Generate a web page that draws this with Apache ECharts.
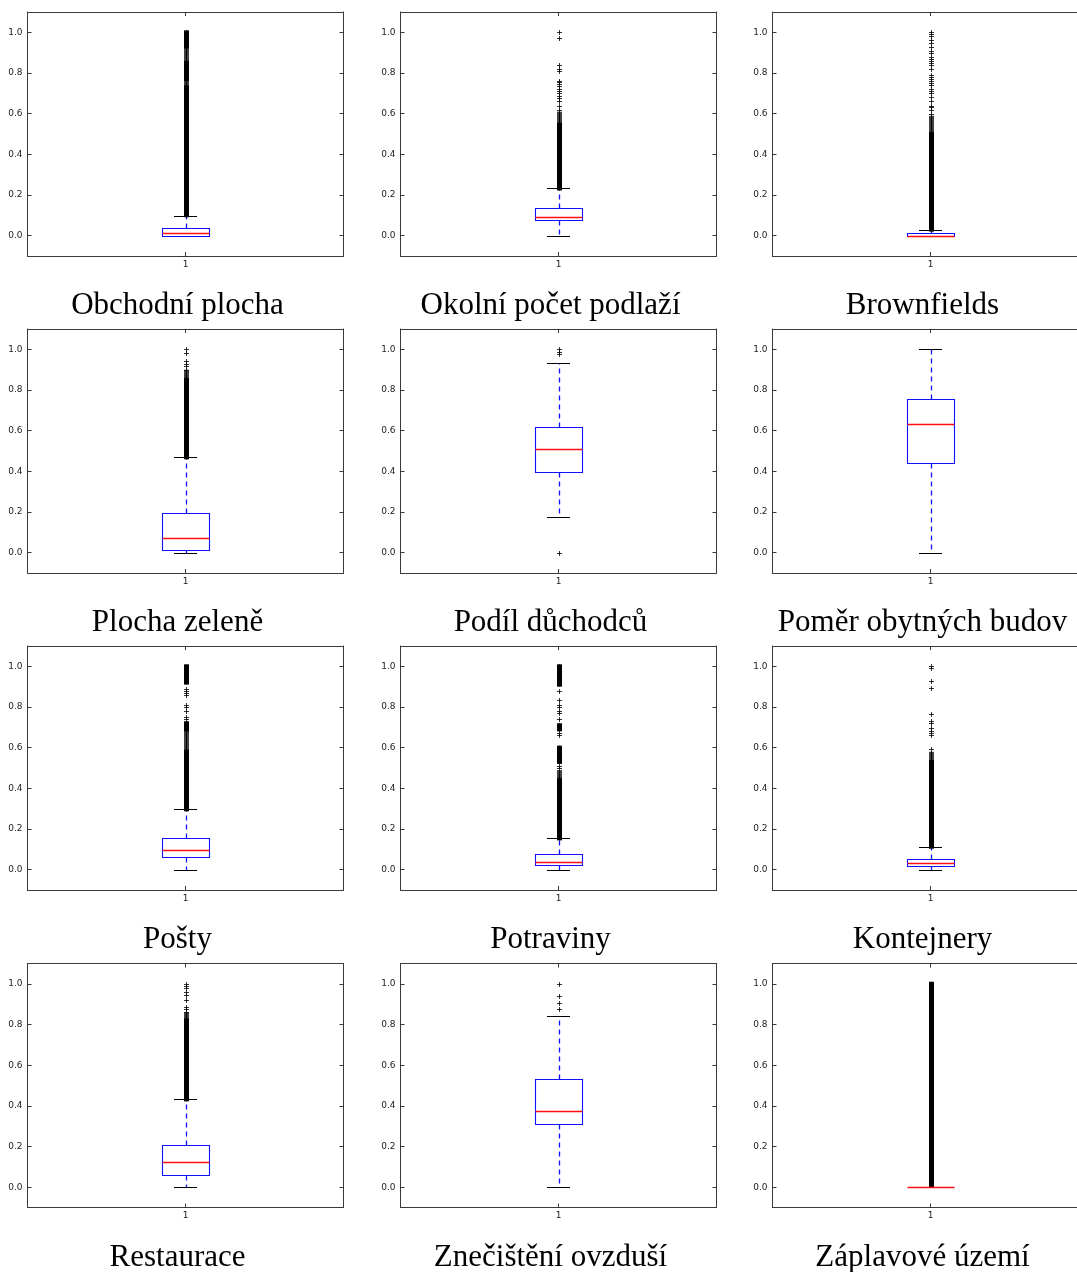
<!DOCTYPE html>
<html>
<head>
<meta charset="utf-8">
<script src="https://cdn.jsdelivr.net/npm/echarts@6/dist/echarts.min.js"></script>
<style>
html,body{margin:0;padding:0;background:#fff;}
#chart{width:1077px;height:1272px;}
</style>
</head>
<body>
<div id="chart"></div>
<script>
// ---- data ----
const titles = [
  "Obchodní plocha", "Okolní počet podlaží", "Brownfields",
  "Plocha zeleně", "Podíl důchodců", "Poměr obytných budov",
  "Pošty", "Potraviny", "Kontejnery",
  "Restaurace", "Znečištění ovzduší", "Záplavové území"
];
const categoryLabel = "1";
const yTicks = [0.0, 0.2, 0.4, 0.6, 0.8, 1.0];

// [lower whisker, Q1, median, Q3, upper whisker]
const boxStats = [
  [0, 0, 0.015, 0.039, 0.097],
  [0, 0.079, 0.094, 0.138, 0.232],
  [0, 0, 0, 0.013, 0.030],
  [0, 0.015, 0.074, 0.197, 0.469],
  [0.177, 0.398, 0.511, 0.618, 0.934],
  [0, 0.439, 0.631, 0.754, 1.0],
  [0, 0.064, 0.098, 0.157, 0.297],
  [0, 0.023, 0.039, 0.075, 0.154],
  [0, 0.018, 0.033, 0.054, 0.113],
  [0, 0.061, 0.123, 0.207, 0.432],
  [0, 0.312, 0.374, 0.530, 0.844],
  [0, 0, 0, 0, 0]
];

// ranges where outlier markers overlap into a solid column
const denseOutliers = [
  [[0.10, 0.73], [0.77, 0.85], [0.93, 1.0]],
  [[0.232, 0.545]],
  [[0.03, 0.50]],
  [[0.469, 0.85]],
  [],
  [],
  [[0.297, 0.58], [0.69, 0.72], [0.92, 1.0]],
  [[0.154, 0.44], [0.53, 0.60], [0.69, 0.71], [0.91, 1.0]],
  [[0.113, 0.53]],
  [[0.432, 0.82]],
  [],
  [[0.01, 1.0]]
];

// ranges where outlier markers are close but not fully merged
const looseOutliers = [
  [[0.73, 0.77], [0.85, 0.93]],
  [[0.545, 0.60]],
  [[0.50, 0.58]],
  [[0.85, 0.89]],
  [],
  [],
  [[0.58, 0.68]],
  [[0.44, 0.48]],
  [[0.53, 0.57]],
  [[0.82, 0.85]],
  [],
  []
];

// individual outliers
const outliers = [
  [],
  [0.62, 0.64, 0.66, 0.675, 0.685, 0.70, 0.71, 0.72, 0.735, 0.745, 0.755, 0.76, 0.81, 0.82, 0.84, 0.97, 1.0],
  [0.60, 0.62, 0.635, 0.64, 0.66, 0.68, 0.70, 0.71, 0.72, 0.74, 0.75, 0.76, 0.77, 0.78, 0.79, 0.82, 0.84, 0.85, 0.86, 0.87, 0.88, 0.90, 0.91, 0.93, 0.95, 0.96, 0.98, 0.99, 1.0],
  [0.90, 0.92, 0.93, 0.945, 0.98, 1.0],
  [0.0, 0.976, 0.988, 1.0],
  [],
  [0.74, 0.75, 0.78, 0.80, 0.81, 0.86, 0.87, 0.88, 0.89],
  [0.50, 0.51, 0.66, 0.67, 0.74, 0.77, 0.78, 0.80, 0.81, 0.835, 0.88],
  [0.595, 0.66, 0.67, 0.68, 0.695, 0.72, 0.73, 0.765, 0.895, 0.928, 0.99, 1.0],
  [0.862, 0.875, 0.885, 0.92, 0.944, 0.962, 0.98, 0.99, 1.0],
  [0.875, 0.905, 0.941, 1.0],
  []
];

// ---- layout ----
const colLeft = [27.5, 400.5, 772.5];
const rowTop = [12, 329, 646, 963.5];
const gridW = 316, gridH = 244;
const frameColor = '#3a3a3a';
const labelColor = '#222';

const chart = echarts.init(document.getElementById('chart'), null, {renderer: 'canvas'});

const px = v => Math.round(v) + 0.5;

function renderBox(params, api) {
  const x = api.value(0);
  const w = Math.round(api.size([0.15, 0])[0]);
  const cx = api.coord([x, 0])[0];
  const yLow = px(api.coord([x, api.value(1)])[1]);
  const yQ1 = px(api.coord([x, api.value(2)])[1]);
  const yQ3 = px(api.coord([x, api.value(4)])[1]);
  const yHigh = px(api.coord([x, api.value(5)])[1]);
  const cxp = px(cx);
  const left = px(cx - w / 2);
  const capHalf = w / 4;
  const blue = '#1010ff';
  const children = [];
  if (yHigh !== yQ3) {
    children.push({type: 'line', shape: {x1: cxp, y1: yQ3, x2: cxp, y2: yHigh},
      style: {stroke: blue, lineWidth: 1.3, lineDash: [5, 4]}});
  }
  if (yLow !== yQ1) {
    children.push({type: 'line', shape: {x1: cxp, y1: yQ1, x2: cxp, y2: yLow},
      style: {stroke: blue, lineWidth: 1.3, lineDash: [5, 4]}});
  }
  children.push({type: 'line', shape: {x1: Math.round(cx - capHalf), y1: yHigh, x2: Math.round(cx + capHalf), y2: yHigh},
    style: {stroke: '#000', lineWidth: 1}});
  children.push({type: 'line', shape: {x1: Math.round(cx - capHalf), y1: yLow, x2: Math.round(cx + capHalf), y2: yLow},
    style: {stroke: '#000', lineWidth: 1}});
  if (yQ1 !== yQ3) {
    children.push({type: 'rect', shape: {x: left, y: yQ3, width: w, height: yQ1 - yQ3},
      style: {stroke: blue, fill: 'none', lineWidth: 1.1}});
  }
  return {type: 'group', children: children};
}

function renderMedian(params, api) {
  const x = api.value(0);
  const w = Math.round(api.size([0.15, 0])[0]);
  const cx = api.coord([x, 0])[0];
  const y = px(api.coord([x, api.value(1)])[1]);
  const left = px(cx - w / 2);
  return {type: 'line', shape: {x1: left, y1: y, x2: left + w, y2: y},
    style: {stroke: '#ff1010', lineWidth: 1.3}};
}

function renderBand(alpha) {
  return function (params, api) {
    const x = api.value(0);
    const cx = api.coord([x, 0])[0];
    const yTop = api.coord([x, api.value(2)])[1];
    const yBot = api.coord([x, api.value(1)])[1];
    return {type: 'group', children: [
      {type: 'rect', shape: {x: Math.round(cx) - 2, y: yTop - 2, width: 5, height: yBot - yTop + 4},
        style: {fill: '#000', opacity: alpha}},
      {type: 'line', shape: {x1: px(cx), y1: yTop - 2, x2: px(cx), y2: yBot + 2},
        style: {stroke: '#000', lineWidth: 1}}
    ]};
  };
}

function renderPlus(params, api) {
  const p = api.coord([api.value(0), api.value(1)]);
  const cx = px(p[0]), cy = px(p[1]);
  return {type: 'group', children: [
    {type: 'line', shape: {x1: cx - 2.5, y1: cy, x2: cx + 2.5, y2: cy}, style: {stroke: '#000', lineWidth: 1, opacity: 0.8}},
    {type: 'line', shape: {x1: cx, y1: cy - 2.5, x2: cx, y2: cy + 2.5}, style: {stroke: '#000', lineWidth: 1, opacity: 0.8}}
  ]};
}

const grids = [], xAxes = [], yAxes = [], series = [], titleOpts = [];
const N = titles.length;
const lineStyle = {color: frameColor, width: 1};

for (let i = 0; i < N; i++) {
  const r = Math.floor(i / 3), c = i % 3;
  grids.push({left: colLeft[c], top: rowTop[r], width: gridW, height: gridH,
    containLabel: false, outerBoundsMode: 'none'});
  titleOpts.push({
    text: titles[i],
    left: colLeft[c] + gridW / 2 - 8,
    top: rowTop[r] + 294,
    textAlign: 'center',
    textVerticalAlign: 'middle',
    padding: 0,
    textStyle: {fontFamily: 'Liberation Serif', fontSize: 31, fontWeight: 'normal', color: '#000'}
  });
}
// bottom x axes
for (let i = 0; i < N; i++) {
  xAxes.push({
    gridIndex: i, type: 'value', min: 0.5, max: 1.5, position: 'bottom',
    axisLine: {show: true, onZero: false, lineStyle: lineStyle},
    axisTick: {show: true, inside: true, length: 4, customValues: [1], lineStyle: lineStyle},
    axisLabel: {show: true, customValues: [1], formatter: () => categoryLabel, fontSize: 9,
      fontFamily: 'DejaVu Sans', color: labelColor, margin: 4},
    splitLine: {show: false}
  });
}
// top x axes (frame)
for (let i = 0; i < N; i++) {
  xAxes.push({
    gridIndex: i, type: 'value', min: 0.5, max: 1.5, position: 'top',
    axisLine: {show: true, onZero: false, lineStyle: lineStyle},
    axisTick: {show: true, inside: true, length: 4, customValues: [1], lineStyle: lineStyle},
    axisLabel: {show: false},
    splitLine: {show: false}
  });
}
// left y axes
for (let i = 0; i < N; i++) {
  yAxes.push({
    gridIndex: i, type: 'value', min: -0.1, max: 1.1, position: 'left',
    axisLine: {show: true, onZero: false, lineStyle: lineStyle},
    axisTick: {show: true, inside: true, length: 4, customValues: yTicks, lineStyle: lineStyle},
    axisLabel: {show: true, customValues: yTicks, formatter: v => Number(v).toFixed(1), fontSize: 9,
      fontFamily: 'DejaVu Sans', color: labelColor, margin: 5},
    splitLine: {show: false}
  });
}
// right y axes (frame)
for (let i = 0; i < N; i++) {
  yAxes.push({
    gridIndex: i, type: 'value', min: -0.1, max: 1.1, position: 'right',
    axisLine: {show: true, onZero: false, lineStyle: lineStyle},
    axisTick: {show: true, inside: true, length: 4, customValues: yTicks, lineStyle: lineStyle},
    axisLabel: {show: false},
    splitLine: {show: false}
  });
}

for (let i = 0; i < N; i++) {
  const s = boxStats[i];
  series.push({
    type: 'custom', name: titles[i] + ' box', xAxisIndex: i, yAxisIndex: i, silent: true,
    renderItem: renderBox, encode: {x: 0, y: [1, 2, 3, 4, 5]},
    data: [[1, s[0], s[1], s[2], s[3], s[4]]], z: 2
  });
  if (looseOutliers[i].length) {
    series.push({
      type: 'custom', xAxisIndex: i, yAxisIndex: i, silent: true,
      renderItem: renderBand(0.75), encode: {x: 0, y: [1, 2]},
      data: looseOutliers[i].map(b => [1, b[0], b[1]]), z: 3
    });
  }
  if (denseOutliers[i].length) {
    series.push({
      type: 'custom', xAxisIndex: i, yAxisIndex: i, silent: true,
      renderItem: renderBand(1), encode: {x: 0, y: [1, 2]},
      data: denseOutliers[i].map(b => [1, b[0], b[1]]), z: 3
    });
  }
  if (outliers[i].length) {
    series.push({
      type: 'custom', xAxisIndex: i, yAxisIndex: i, silent: true,
      renderItem: renderPlus, encode: {x: 0, y: 1},
      data: outliers[i].map(v => [1, v]), z: 4
    });
  }
  series.push({
    type: 'custom', name: titles[i] + ' median', xAxisIndex: i, yAxisIndex: i, silent: true,
    renderItem: renderMedian, encode: {x: 0, y: 1},
    data: [[1, s[2]]], z: 6
  });
}

chart.setOption({
  backgroundColor: '#fff',
  animation: false,
  title: titleOpts,
  grid: grids,
  xAxis: xAxes,
  yAxis: yAxes,
  series: series
});
</script>
</body>
</html>
